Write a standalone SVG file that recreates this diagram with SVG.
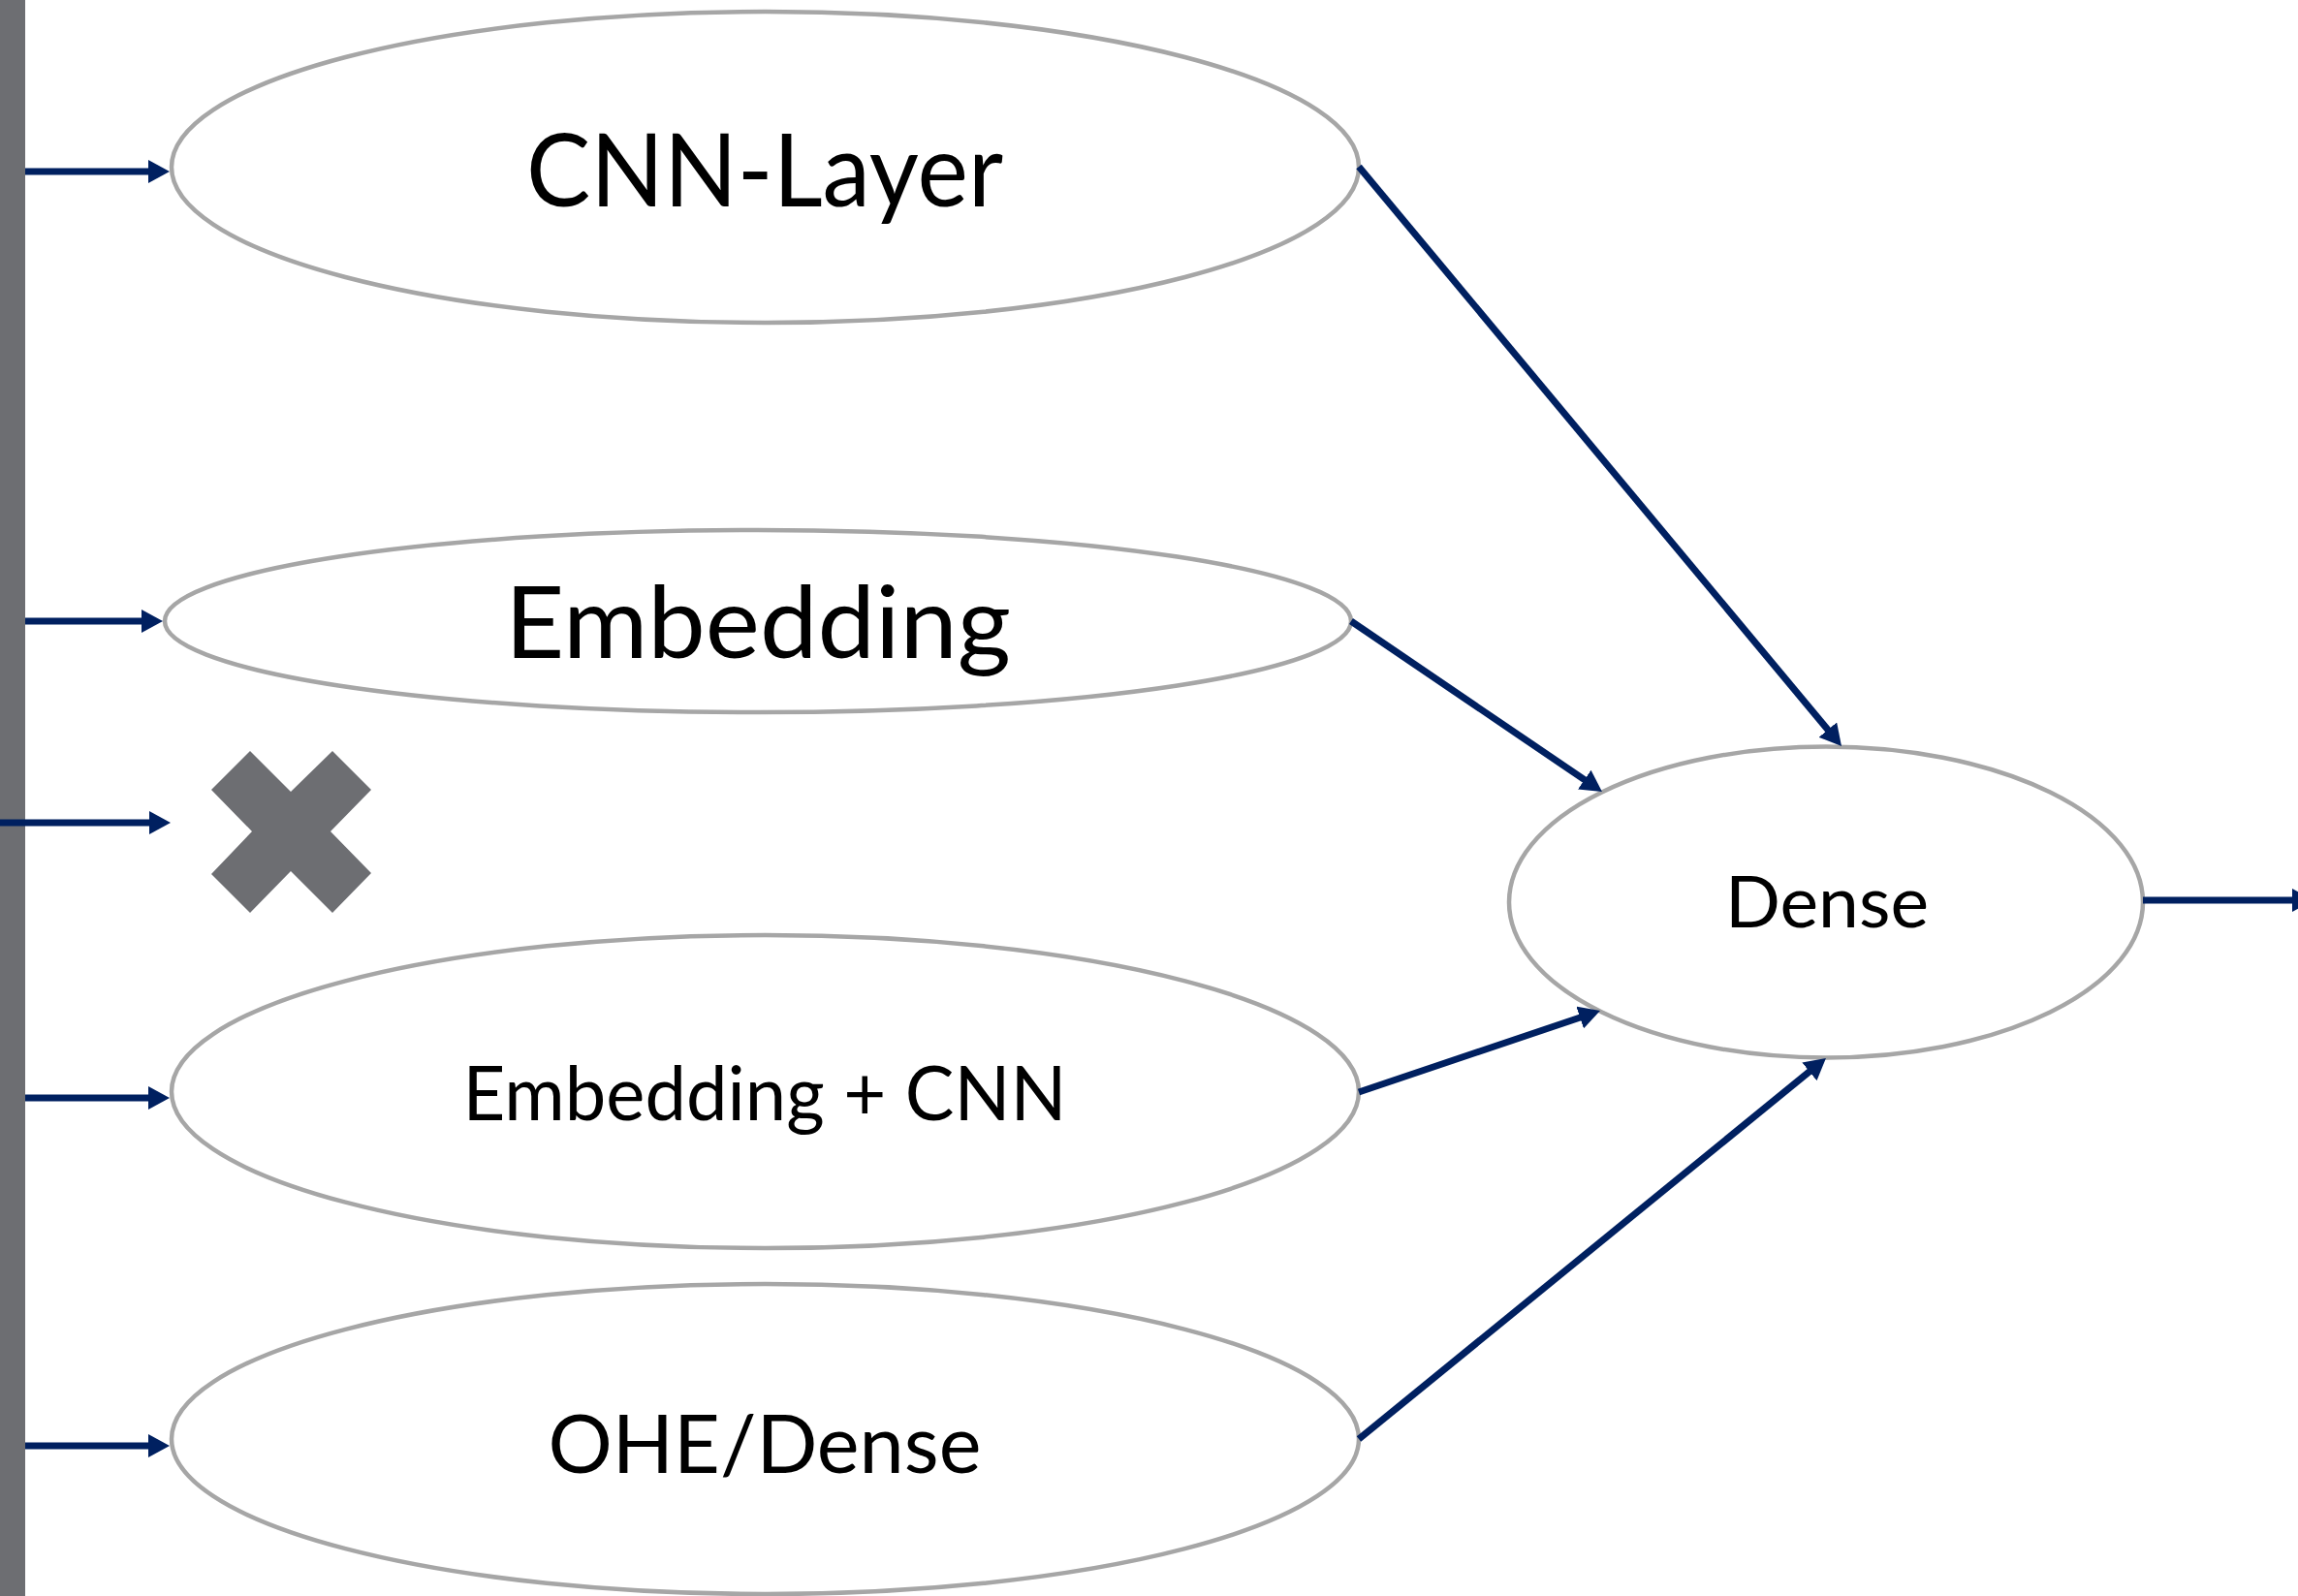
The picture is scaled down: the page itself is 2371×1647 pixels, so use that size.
<svg xmlns="http://www.w3.org/2000/svg" width="2371" height="1647" viewBox="0 0 2371 1647">
  <style>
    .node { fill: #ffffff; stroke: #a6a6a6; stroke-width: 4.5; }
    .label { font-family: Lato, "Open Sans", "Liberation Sans", sans-serif; fill: #000000; text-anchor: middle; }
    .conn { stroke: #002060; stroke-width: 7; fill: none; marker-end: url(#arrow); }
  </style>
  <defs>
    <marker id="arrow" viewBox="0 0 22 24" refX="12" refY="12" markerWidth="22" markerHeight="24" markerUnits="userSpaceOnUse" orient="auto">
      <path d="M0,0 L22,12 L0,24 Z" fill="#002060"/>
    </marker>
  </defs>
  <rect width="2371" height="1647" fill="#ffffff"/>

  <g id="input-bar">
    <rect x="0" y="0" width="26" height="1647" fill="#6d6e72"/>
  </g>

  <g id="node-cnn-layer">
    <ellipse class="node" cx="789.5" cy="172.5" rx="612.5" ry="160.5"/>
    <text class="label" x="789" y="213" font-size="104" textLength="492" lengthAdjust="spacingAndGlyphs">CNN-Layer</text>
  </g>

  <g id="node-embedding">
    <ellipse class="node" cx="782" cy="641" rx="612" ry="94"/>
    <text class="label" x="782" y="679" font-size="102" textLength="522" lengthAdjust="spacingAndGlyphs">Embedding</text>
  </g>

  <g id="x-mark">
    <polygon points="258,775 300,817 343,775 383,815 341,858 383,901 343,942 300,899 258,942 218,902 260,858 218,815" fill="#6d6e72"/>
  </g>

  <g id="node-embedding-cnn">
    <ellipse class="node" cx="789.5" cy="1126.5" rx="612.5" ry="161.5"/>
    <text class="label" x="789" y="1156" font-size="77" textLength="623" lengthAdjust="spacingAndGlyphs">Embedding + CNN</text>
  </g>

  <g id="node-ohe-dense">
    <ellipse class="node" cx="789.5" cy="1485" rx="612.5" ry="160"/>
    <text class="label" x="789" y="1520" font-size="84" textLength="447" lengthAdjust="spacingAndGlyphs">OHE/Dense</text>
  </g>

  <g id="node-dense">
    <ellipse class="node" cx="1884" cy="931" rx="327" ry="160.5"/>
    <text class="label" x="1885" y="957" font-size="73" textLength="210" lengthAdjust="spacingAndGlyphs">Dense</text>
  </g>

  <g id="connectors">
    <line class="conn" x1="26" y1="177" x2="165" y2="177"/>
    <line class="conn" x1="26" y1="641" x2="158" y2="641"/>
    <line class="conn" x1="0" y1="849" x2="166" y2="849"/>
    <line class="conn" x1="26" y1="1133" x2="165" y2="1133"/>
    <line class="conn" x1="26" y1="1492" x2="165" y2="1492"/>
    <line class="conn" x1="1402" y1="172" x2="1893.6" y2="762.3"/>
    <line class="conn" x1="1394" y1="641" x2="1644.7" y2="811.4"/>
    <line class="conn" x1="1402" y1="1127" x2="1641.5" y2="1046.2"/>
    <line class="conn" x1="1402" y1="1485" x2="1876.2" y2="1098.3"/>
    <line class="conn" x1="2211" y1="929" x2="2377" y2="929"/>
  </g>
</svg>
